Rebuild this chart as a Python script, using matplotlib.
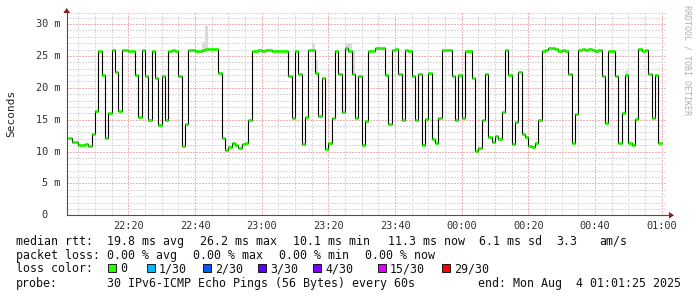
import numpy as np
import matplotlib
matplotlib.use("Agg")
import matplotlib.pyplot as plt
from matplotlib.patches import Polygon, Rectangle
from matplotlib.ticker import MultipleLocator
import matplotlib.transforms as mtransforms

W, H = 697, 297
MONO = "DejaVu Sans Mono"

# median rtt (ms), one sample per minute, first sample ends 22:03
median_ms = [
    12.2, 11.5, 11.5, 11.0, 11.1, 11.2, 10.9, 12.8, 16.3, 25.8,
    22.0, 12.1, 16.1, 25.9, 22.5, 16.3, 25.9, 26.0, 25.8, 25.8,
    22.0, 15.4, 26.0, 21.9, 15.0, 25.8, 21.6, 14.2, 21.9, 15.0,
    25.8, 25.9, 25.8, 21.9, 10.8, 14.3, 26.0, 25.9, 25.7, 25.7,
    25.9, 26.1, 26.1, 26.1, 26.1, 22.3, 12.1, 10.3, 10.7, 11.4,
    11.1, 10.6, 11.2, 11.4, 15.0, 25.8, 25.8, 26.0, 25.8, 25.9,
    26.0, 25.7, 25.8, 25.8, 25.7, 25.7, 21.9, 15.3, 25.8, 22.1,
    11.2, 15.4, 26.0, 25.9, 22.3, 15.6, 21.6, 10.4, 11.4, 15.3,
    25.8, 22.2, 16.2, 26.2, 25.8, 22.1, 15.3, 21.9, 11.1, 14.8,
    25.7, 25.8, 26.2, 26.2, 26.2, 22.0, 14.3, 25.9, 26.1, 22.1,
    15.0, 25.9, 25.7, 21.9, 15.0, 22.1, 11.1, 15.1, 22.3, 11.9,
    11.3, 15.2, 25.9, 25.9, 25.9, 21.8, 15.0, 22.0, 15.3, 25.8,
    25.8, 21.6, 10.1, 10.6, 15.0, 22.2, 12.3, 11.5, 12.4, 11.9,
    16.2, 26.0, 22.0, 11.2, 14.6, 22.5, 12.8, 12.3, 10.9, 10.7,
    11.3, 15.0, 25.8, 25.9, 26.2, 26.2, 26.1, 25.8, 26.0, 25.7,
    22.1, 11.4, 15.9, 25.9, 26.1, 25.9, 26.1, 25.9, 25.7, 25.9,
    21.8, 14.5, 25.8, 25.8, 21.9, 11.4, 16.0, 22.0, 11.3, 11.1,
    15.1, 26.1, 25.7, 25.9, 22.2, 15.2, 22.0, 11.3,
]
first_minute = 2  # minutes after 22:00

# "smoke" (spread of the pings) where it is visible
smoke_idx = [40, 41, 73, 74, 83, 84, 85, 167]
smoke_lo = [25.9, 26.1, 25.9, 22.3, 26.2, 25.8, 22.1, 22.0]
smoke_hi = [27.2, 29.7, 26.8, 24.4, 27.0, 27.0, 26.0, 22.7]

xtick_min = [20, 40, 60, 80, 100, 120, 140, 160, 180]
xtick_labels = ["22:20", "22:40", "23:00", "23:20", "23:40",
                "00:00", "00:20", "00:40", "01:00"]
ytick_vals = [0, 5, 10, 15, 20, 25, 30]
ytick_labels = ["0", "5 m", "10 m", "15 m", "20 m", "25 m", "30 m"]

loss_labels = ["0", "1/30", "2/30", "3/30", "4/30", "15/30", "29/30"]
loss_colors = ["#26ff00", "#00b8ff", "#0059ff", "#5e00ff", "#7e00ff", "#dd00ff", "#ff0000"]

stats_rtt = ["19.8 ms avg", "26.2 ms max", "10.1 ms min", "11.3 ms now", "6.1 ms sd", "3.3", "am/s"]
stats_loss = ["0.00 % avg", "0.00 % max", "0.00 % min", "0.00 % now"]


def fx(x):
    return x / W


def fy(y):
    return 1 - y / H


fig = plt.figure(figsize=(W / 100, H / 100), dpi=100, facecolor="white")
ax = fig.add_axes([fx(66.5), fy(215.3), 600 / W, (215.3 - 13.3) / H])
ax.set_facecolor("white")

vals = np.array(median_ms)
edges = first_minute + np.arange(len(vals) + 1)

# grid
ax.set_xlim(1.42, 181.42)
ax.set_ylim(0, 31.68)
ax.set_xticks(xtick_min)
ax.xaxis.set_minor_locator(MultipleLocator(5))
ax.set_yticks(ytick_vals)
ax.yaxis.set_minor_locator(MultipleLocator(1))
ax.grid(which="minor", color="#dadada", lw=0.72, ls=(0, (1.4, 1.4)), antialiased=False)
ax.grid(which="major", color="#f0b4b4", lw=0.72, ls=(0, (1.4, 1.4)), antialiased=False)
ax.axhline(31.68, color="#dadada", lw=0.72, ls=(0, (1.4, 1.4)), clip_on=False, antialiased=False)
ax.set_axisbelow(True)

# smoke
si = np.array(smoke_idx)
ax.bar(edges[si], np.array(smoke_hi) - np.array(smoke_lo), width=1.0,
       bottom=smoke_lo, align="edge", color="#dadada", lw=0, zorder=2)

# median
ax.stairs(vals, edges, baseline=None, color="black", lw=0.8, zorder=3)
ax.hlines(vals, edges[:-1], edges[1:], color=loss_colors[0], lw=2.2,
          capstyle="butt", zorder=4)

# axes look
for s in ["top", "right"]:
    ax.spines[s].set_visible(False)
for s in ["left", "bottom"]:
    ax.spines[s].set_color("#505050")
    ax.spines[s].set_linewidth(0.8)
ax.tick_params(which="both", length=0)
ax.tick_params(axis="x", pad=4)
ax.set_xticklabels(xtick_labels, family=MONO, fontsize=7.4, color="#333333")
ax.set_yticklabels([])
ytr = mtransforms.offset_copy(ax.get_yaxis_transform(), fig=fig, x=-6.5, y=0, units="dots")
for v, lab in zip(ytick_vals, ytick_labels):
    tr = ytr if lab != "0" else mtransforms.offset_copy(ytr, fig=fig, x=-12.5, y=0, units="dots")
    ax.text(0, v, lab, transform=tr, ha="right", va="center",
            family=MONO, fontsize=7.4, color="#333333")

# axis arrows
fig.add_artist(Polygon([(fx(669), fy(215.3)), (fx(669), fy(212)), (fx(674), fy(215.3)),
                        (fx(669), fy(218.6))], closed=True, transform=fig.transFigure,
                       color="#8b1c1c", lw=0))
fig.add_artist(plt.Line2D([fx(666), fx(669)], [fy(215.3), fy(215.3)],
                          transform=fig.transFigure, color="#505050", lw=0.8))
fig.add_artist(Polygon([(fx(63.3), fy(13)), (fx(66.7), fy(8)), (fx(70.1), fy(13))],
                       closed=True, transform=fig.transFigure, color="#8b1c1c", lw=0))

# labels
fig.text(fx(11), fy(113), "Seconds", rotation=90, ha="center", va="center",
         family=MONO, fontsize=8, color="#222222")
fig.text(fx(687), fy(5), "RRDTOOL / TOBI OETIKER", rotation=270, ha="center", va="top",
         family=MONO, fontsize=6, color="#b0b0b0")

# legend block
txt = dict(family=MONO, fontsize=8.4, color="#111111", va="baseline")
fig.text(fx(16), fy(245), "median rtt:", **txt)
for x, s in zip([107.3, 200, 293.3, 388, 479, 556, 599], stats_rtt):
    fig.text(fx(x), fy(245), s, **txt)
fig.text(fx(16), fy(259.3), "packet loss:", **txt)
for x, s in zip([107.3, 193.3, 279.3, 365], stats_loss):
    fig.text(fx(x), fy(259.3), s, **txt)
fig.text(fx(16), fy(272.5), "loss color:", **txt)
box_x = [108, 146.7, 202.7, 258.3, 313.3, 377.7, 441.7]
for x, lab, c in zip(box_x, loss_labels, loss_colors):
    fig.add_artist(Rectangle((fx(x), fy(272)), 8 / W, 8 / H, transform=fig.transFigure,
                             facecolor=c, edgecolor="black", lw=0.6))
    fig.text(fx(x + 12.3), fy(272.5), lab, **txt)
fig.text(fx(16), fy(286.5), "probe:", **txt)
fig.text(fx(107.3), fy(286.5), "30 IPv6-ICMP Echo Pings (56 Bytes) every 60s", **txt)
fig.text(fx(680.5), fy(286.5), "end: Mon Aug  4 01:01:25 2025", ha="right", **txt)

fig.savefig("out.png", dpi=100, facecolor="white")
